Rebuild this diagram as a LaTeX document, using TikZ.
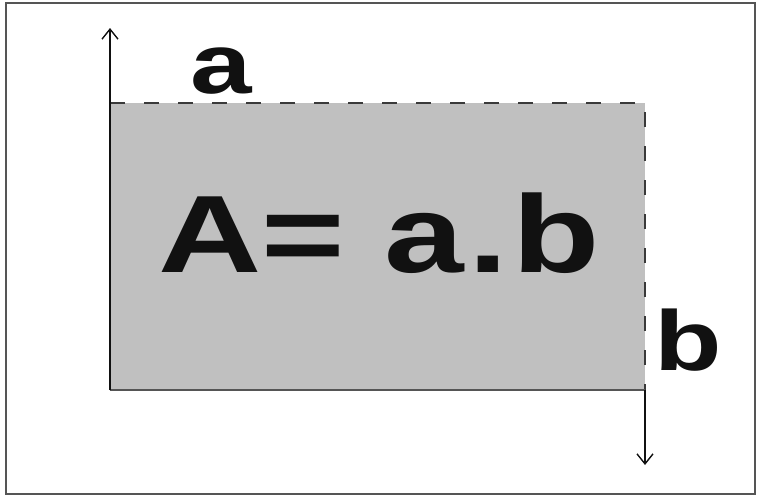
\documentclass[tikz,border=0pt]{standalone}
\usepackage{fontspec}
\setmainfont{Liberation Sans}
\usetikzlibrary{arrows.meta}
\definecolor{ink}{HTML}{111111}
\definecolor{edge}{HTML}{3A3A3A}
\definecolor{frame}{HTML}{555555}
\definecolor{areafill}{HTML}{C0C0C0}
\tikzset{
  dimarrow/.style={-{Straight Barb[length=10pt,width=16pt,line width=1.4pt]},line width=2pt,draw=ink},
  edgedash/.style={line width=2.6pt,draw=edge,dash pattern=on 15pt off 19pt},
  areatext/.style={font=\fontsize{110}{110}\selectfont\bfseries,text=ink,xscale=1.3,anchor=base,inner sep=0pt},
  sidelabel/.style={font=\fontsize{85}{85}\selectfont\bfseries,text=ink,xscale=1.3,anchor=base,inner sep=0pt}
}
\begin{document}
\begin{tikzpicture}[x=1pt,y=-1pt]
  \useasboundingbox (0,0) rectangle (760,499);
  \draw[frame,line width=2pt] (6,3) rectangle (755,494);

  % corners of the area
  \coordinate (tl) at (110,103);
  \coordinate (tr) at (645,103);
  \coordinate (bl) at (110,390);
  \coordinate (br) at (645,390);
  \coordinate (topend) at (110,28);
  \coordinate (botend) at (645,465);

  \fill[areafill] (tl) rectangle (br);
  \draw[edgedash] (tl) -- (tr) -- (br);
  \draw[frame,line width=2pt] (bl) -- (br);
  \draw[dimarrow] (bl) -- (topend);
  \draw[dimarrow] (br) -- (botend);

  \node[areatext] (formula) at (379,272) {A= a\kern3pt.\kern3pt b};
  \node[sidelabel] (lbla) at (221,93) {a};
  \node[sidelabel] (lblb) at (688,370) {b};
\end{tikzpicture}
\end{document}
